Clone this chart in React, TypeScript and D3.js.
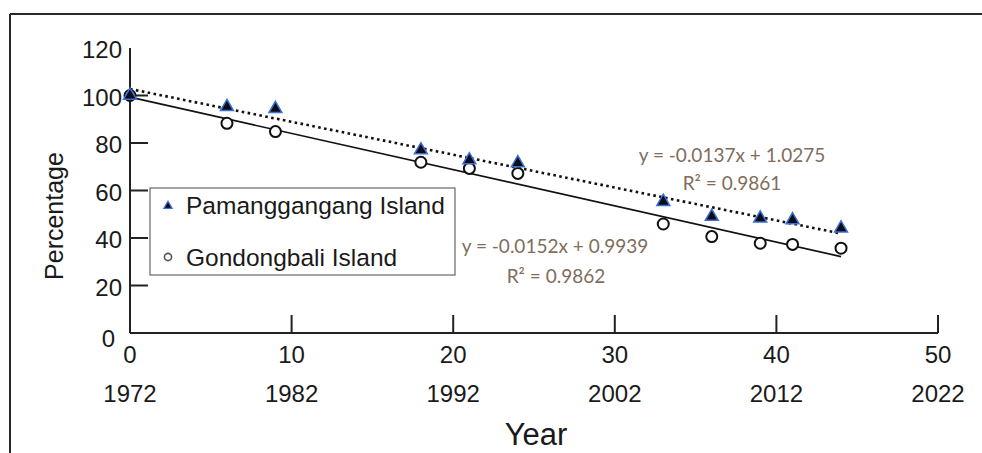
import React from "react";
import * as d3 from "d3";

// ---- Data ----
const years = [0, 6, 9, 18, 21, 24, 33, 36, 39, 41, 44];
const pamanggangang = [100, 95.2, 94.4, 77, 72.8, 71.6, 55.3, 49, 48.3, 47.6, 44.1];
const gondongbali = [100, 88.3, 84.8, 71.9, 69.3, 67.2, 45.9, 40.6, 37.8, 37.3, 35.7];
const seriesNames = ["Pamanggangang Island", "Gondongbali Island"];
const xTicks = [0, 10, 20, 30, 40, 50];
const yTicks = [0, 20, 40, 60, 80, 100, 120];
const baseYear = 1972;
const eqPamanggangang = ["y = -0.0137x + 1.0275", "R² = 0.9861"];
const eqGondongbali = ["y = -0.0152x + 0.9939", "R² = 0.9862"];

const W = 982;
const H = 453;
const FONT = "'Liberation Sans', Arial, Helvetica, sans-serif";
const EQ_FONT = "Lato, 'Open Sans', sans-serif";
const EQ_COLOR = "#7f6d5c";
const INK = "#1a1a1a";

function fit(xs: number[], ys: number[]) {
  const mx = d3.mean(xs) as number;
  const my = d3.mean(ys) as number;
  let sxy = 0;
  let sxx = 0;
  xs.forEach((x, i) => {
    sxy += (x - mx) * (ys[i] - my);
    sxx += (x - mx) * (x - mx);
  });
  const slope = sxy / sxx;
  return { slope, intercept: my - slope * mx };
}

export default function App() {
  const x = d3.scaleLinear().domain([0, 50]).range([130, 938]);
  const y = d3.scaleLinear().domain([0, 120]).range([333, 48]);

  const fitP = fit(years, pamanggangang);
  const fitG = fit(years, gondongbali);
  const xExt = d3.extent(years) as [number, number];
  const line = d3
    .line<number>()
    .x((d) => x(d))
    .y((d) => y(d));
  const lineP = d3
    .line<number>()
    .x((d) => x(d))
    .y((d) => y(fitP.intercept + fitP.slope * d))(xExt);
  const lineG = d3
    .line<number>()
    .x((d) => x(d))
    .y((d) => y(fitG.intercept + fitG.slope * d))(xExt);
  void line;

  const tri = d3.symbol().type(d3.symbolTriangle).size(72)();
  const triLegend = d3.symbol().type(d3.symbolTriangle).size(30)();

  const tickLen = 18;

  return (
    <svg
      width={W}
      height={H}
      style={{ position: "absolute", left: 0, top: 0, background: "#fff" }}
    >
      <rect x={0} y={0} width={W} height={H} fill="#fff" />
      {/* frame */}
      <line x1={10} y1={14} x2={W} y2={14} stroke="#2a2a2a" strokeWidth={2} />
      <line x1={10} y1={14} x2={10} y2={H} stroke="#2a2a2a" strokeWidth={2} />

      {/* axes */}
      <line x1={x(0)} y1={y(0)} x2={x(50)} y2={y(0)} stroke="#222" strokeWidth={2} />
      <line x1={x(0)} y1={y(0)} x2={x(0)} y2={y(120)} stroke="#222" strokeWidth={2} />
      {yTicks
        .filter((t) => t > 0 && t < 120)
        .map((t) => (
          <line
            key={"yt" + t}
            x1={x(0)}
            x2={x(0) + tickLen}
            y1={y(t)}
            y2={y(t)}
            stroke="#222"
            strokeWidth={2}
          />
        ))}
      {xTicks
        .filter((t) => t > 0)
        .map((t) => (
          <line
            key={"xt" + t}
            x1={x(t)}
            x2={x(t)}
            y1={y(0)}
            y2={y(0) - tickLen}
            stroke="#222"
            strokeWidth={2}
          />
        ))}

      {/* y tick labels */}
      {yTicks.map((t) => (
        <text
          key={"yl" + t}
          x={t === 0 ? x(0) - 15 : x(0) - 8}
          y={y(t) + (t === 0 ? 14 : 10)}
          textAnchor="end"
          fontFamily={FONT}
          fontSize={24}
          fill={INK}
        >
          {t}
        </text>
      ))}

      {/* x tick labels */}
      {xTicks.map((t) => (
        <g key={"xl" + t}>
          <text
            x={x(t)}
            y={y(0) + 30}
            textAnchor="middle"
            fontFamily={FONT}
            fontSize={24}
            fill={INK}
          >
            {t}
          </text>
          <text
            x={x(t)}
            y={y(0) + 69}
            textAnchor="middle"
            fontFamily={FONT}
            fontSize={24}
            fill={INK}
          >
            {baseYear + t}
          </text>
        </g>
      ))}

      {/* axis titles */}
      <text
        x={(x(0) + x(50)) / 2 + 2}
        y={445}
        textAnchor="middle"
        fontFamily={FONT}
        fontSize={31}
        fill={INK}
      >
        Year
      </text>
      <text
        transform={`translate(63, 216) rotate(-90)`}
        textAnchor="middle"
        fontFamily={FONT}
        fontSize={25}
        fill={INK}
      >
        Percentage
      </text>

      {/* trend lines */}
      <path d={lineG || ""} fill="none" stroke="#111" strokeWidth={1.6} />
      <path
        d={lineP || ""}
        fill="none"
        stroke="#111"
        strokeWidth={2.6}
        strokeDasharray="2.6 3.4"
      />

      {/* markers */}
      {years.map((yr, i) => (
        <circle
          key={"c" + i}
          cx={x(yr)}
          cy={y(gondongbali[i])}
          r={5.5}
          fill="#fff"
          stroke="#111"
          strokeWidth={2}
        />
      ))}
      {years.map((yr, i) => (
        <path
          key={"t" + i}
          d={tri || ""}
          transform={`translate(${x(yr)},${y(pamanggangang[i])})`}
          fill="#0b0b1a"
          stroke="#3d6fd1"
          strokeWidth={1.5}
        />
      ))}

      {/* equations */}
      <text x={732} y={162} textAnchor="middle" fontFamily={EQ_FONT} fontSize={19} fill={EQ_COLOR}>
        {eqPamanggangang[0]}
      </text>
      <text x={732} y={190} textAnchor="middle" fontFamily={EQ_FONT} fontSize={19} fill={EQ_COLOR}>
        {eqPamanggangang[1]}
      </text>
      <text x={555} y={253} textAnchor="middle" fontFamily={EQ_FONT} fontSize={19} fill={EQ_COLOR}>
        {eqGondongbali[0]}
      </text>
      <text x={556} y={283} textAnchor="middle" fontFamily={EQ_FONT} fontSize={19} fill={EQ_COLOR}>
        {eqGondongbali[1]}
      </text>

      {/* legend */}
      <rect x={150} y={188} width={305} height={87} fill="#fff" stroke="#666" strokeWidth={1.2} />
      <path
        d={triLegend || ""}
        transform="translate(168,206)"
        fill="#0b0b1a"
        stroke="#3d6fd1"
        strokeWidth={1.2}
      />
      <text x={186} y={214} fontFamily={FONT} fontSize={24.5} fill={INK}>
        {seriesNames[0]}
      </text>
      <circle cx={168} cy={257} r={3.6} fill="#fff" stroke="#555" strokeWidth={1.6} />
      <text x={186} y={266} fontFamily={FONT} fontSize={24.5} fill={INK}>
        {seriesNames[1]}
      </text>
    </svg>
  );
}
